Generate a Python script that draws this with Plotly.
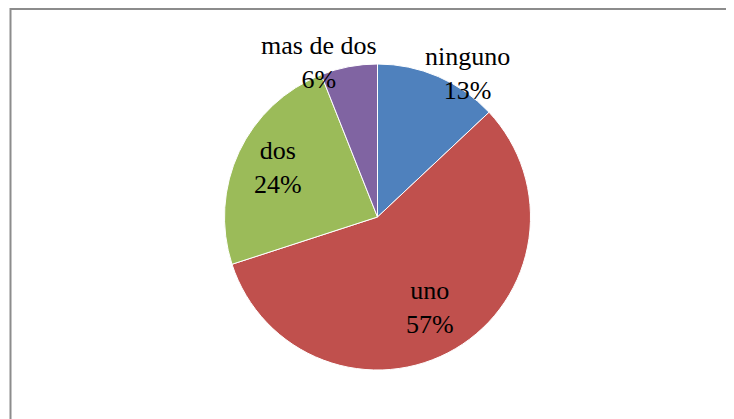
import plotly.graph_objects as go

W, H = 734, 419
OFF = 8  # the page body margin shifts the figure by 8px

labels = ["ninguno", "uno", "dos", "mas de dos"]
values = [13, 57, 24, 6]
colors = ["#4F81BD", "#C0504D", "#9BBB59", "#8064A2"]

# label centres in pixels (Excel "best fit")
label_px = [(467, 74), (430, 307), (278, 168), (319, 62)]

# pie centre / radius in pixels
cx, cy, r = 377.5 - OFF, 217 - OFF, 153


def px_x(x):
    return (x - OFF) / W


def px_y(y):
    return 1 - (y - OFF) / H


fig = go.Figure()
fig.add_trace(go.Pie(labels=labels, values=values, sort=False, direction="clockwise", rotation=0,
                     marker=dict(colors=colors, line=dict(color="#FFFFFF", width=1)),
                     textinfo="none", hoverinfo="label+percent", showlegend=False,
                     domain=dict(x=[(cx - r) / W, (cx + r) / W], y=[1 - (cy + r) / H, 1 - (cy - r) / H])))

total = sum(values)
for lab, val, (px, py) in zip(labels, values, label_px):
    fig.add_annotation(x=px_x(px), y=px_y(py), xref="paper", yref="paper", showarrow=False,
                       text=f"{lab}<br>{round(100 * val / total)}%", xanchor="center", yanchor="middle")

fig.add_shape(type="rect", xref="paper", yref="paper", x0=px_x(10.5), x1=1.05, y0=-0.05, y1=px_y(9),
              line=dict(color="#8C8C8C", width=2), fillcolor="rgba(0,0,0,0)")

fig.update_layout(width=W, height=H, margin=dict(l=0, r=0, t=0, b=0),
                  font=dict(family="Liberation Serif, Times New Roman, serif", size=26, color="black"),
                  paper_bgcolor="white", plot_bgcolor="white")

fig.write_html("out.html")
